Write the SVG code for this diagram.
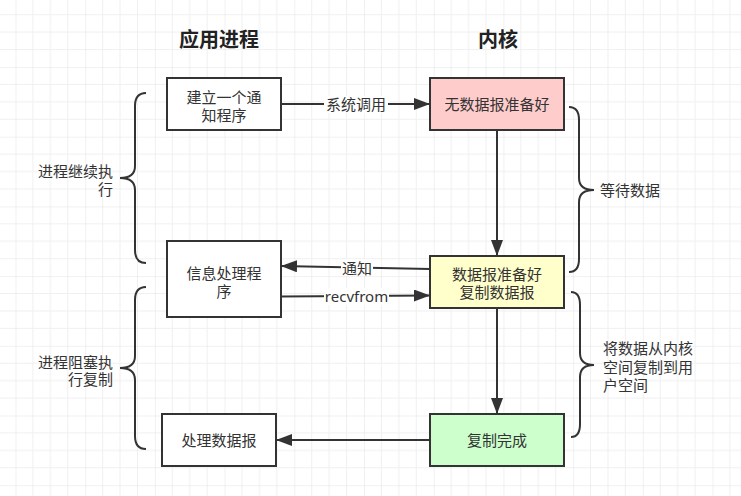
<svg xmlns="http://www.w3.org/2000/svg" width="741" height="496" viewBox="0 0 741 496">
<defs>
<pattern id="grid" patternUnits="userSpaceOnUse" x="15.5" y="-2.7" width="69.7" height="69.7">
<path d="M17.425,0V69.7M34.85,0V69.7M52.275,0V69.7M0,17.425H69.7M0,34.85H69.7M0,52.275H69.7" stroke="#f0f0f0" stroke-width="1" fill="none"/>
<path d="M0,0V69.7M0,0H69.7" stroke="#e3e3e3" stroke-width="1" fill="none"/>
</pattern>
<marker id="arr" markerUnits="userSpaceOnUse" markerWidth="17" markerHeight="13" refX="16" refY="6" orient="auto">
<path d="M0,0L16,6L0,12z" fill="#333"/>
</marker>
<style>
.box{stroke:#333;stroke-width:2}
.t{font-family:"Liberation Sans","Noto Sans CJK SC",sans-serif;font-size:15px;fill:#333;dominant-baseline:central}
.lat{font-family:"Noto Sans","Noto Sans CJK SC",sans-serif}
.title{font-family:"Noto Sans CJK SC",sans-serif;font-size:20px;font-weight:bold;fill:#222;text-anchor:middle;dominant-baseline:central}
.c{text-anchor:middle}
.r{text-anchor:end}
.e{stroke:#333;stroke-width:2;fill:none}
.br{stroke:#333;stroke-width:2;fill:none}
.lbg{fill:#fff}
</style>
</defs>
<rect width="741" height="496" fill="#fff"/>
<rect width="741" height="496" fill="url(#grid)"/>

<text class="title" x="219" y="38">应用进程</text>
<text class="title" x="498" y="38">内核</text>

<g id="connectors">
<line class="e" x1="281" y1="104" x2="430" y2="104" marker-end="url(#arr)"/>
<rect class="lbg" x="324" y="96" width="64" height="17"/>
<text class="t c" x="356" y="104">系统调用</text>
<line class="e" x1="497" y1="130" x2="497" y2="256" marker-end="url(#arr)"/>
<line class="e" x1="430" y1="269" x2="281" y2="266" marker-end="url(#arr)"/>
<rect class="lbg" x="341" y="259" width="32" height="17"/>
<text class="t c" x="357" y="268">通知</text>
<line class="e" x1="281" y1="296.5" x2="430" y2="295.5" marker-end="url(#arr)"/>
<rect class="lbg" x="324" y="288" width="65" height="17"/>
<text class="t c lat" x="356.5" y="296">recvfrom</text>
<line class="e" x1="497" y1="308" x2="497" y2="414" marker-end="url(#arr)"/>
<line class="e" x1="430" y1="440" x2="276" y2="440" marker-end="url(#arr)"/>
</g>

<g id="n-create">
<rect class="box" x="167" y="78" width="114" height="52" fill="#fff"/>
<text class="t c"><tspan x="224" y="97">建立一个通</tspan><tspan x="224" y="114.5">知程序</tspan></text>
</g>
<g id="n-nodata">
<rect class="box" x="430" y="78" width="134" height="52" fill="#ffcccc"/>
<text class="t c" x="497" y="104">无数据报准备好</text>
</g>
<g id="n-handler">
<rect class="box" x="167" y="241" width="114" height="76" fill="#fff"/>
<text class="t c"><tspan x="224" y="272.5">信息处理程</tspan><tspan x="224" y="290.5">序</tspan></text>
</g>
<g id="n-ready">
<rect class="box" x="430" y="256" width="134" height="52" fill="#ffffcc"/>
<text class="t c"><tspan x="497" y="273.5">数据报准备好</tspan><tspan x="497" y="291.5">复制数据报</tspan></text>
</g>
<g id="n-process">
<rect class="box" x="162" y="414" width="114" height="52" fill="#fff"/>
<text class="t c" x="219" y="440">处理数据报</text>
</g>
<g id="n-done">
<rect class="box" x="430" y="414" width="134" height="52" fill="#ccffcc"/>
<text class="t c" x="497" y="440">复制完成</text>
</g>

<g id="brace-left-1">
<path class="br" d="M146,93Q135,93 135,106L135,166Q135,178 120,178Q135,178 135,190L135,250Q135,263 146,263"/>
<text class="t r"><tspan x="113" y="171">进程继续执</tspan><tspan x="113" y="189">行</tspan></text>
</g>
<g id="brace-left-2">
<path class="br" d="M146,287Q135,287 135,300L135,356Q135,368 120,368Q135,368 135,380L135,436Q135,449 146,449"/>
<text class="t r"><tspan x="113" y="361.5">进程阻塞执</tspan><tspan x="113" y="378.5">行复制</tspan></text>
</g>
<g id="brace-right-1">
<path class="br" d="M569,107Q579,107 579,120L579,178Q579,190 594,190Q579,190 579,202L579,259Q579,272 569,272"/>
<text class="t" x="600" y="190">等待数据</text>
</g>
<g id="brace-right-2">
<path class="br" d="M571,292Q580,292 580,305L580,353Q580,365 594,365Q580,365 580,377L580,424Q580,437 571,437"/>
<text class="t"><tspan x="603" y="348">将数据从内核</tspan><tspan x="603" y="366.5">空间复制到用</tspan><tspan x="603" y="385">户空间</tspan></text>
</g>
</svg>
